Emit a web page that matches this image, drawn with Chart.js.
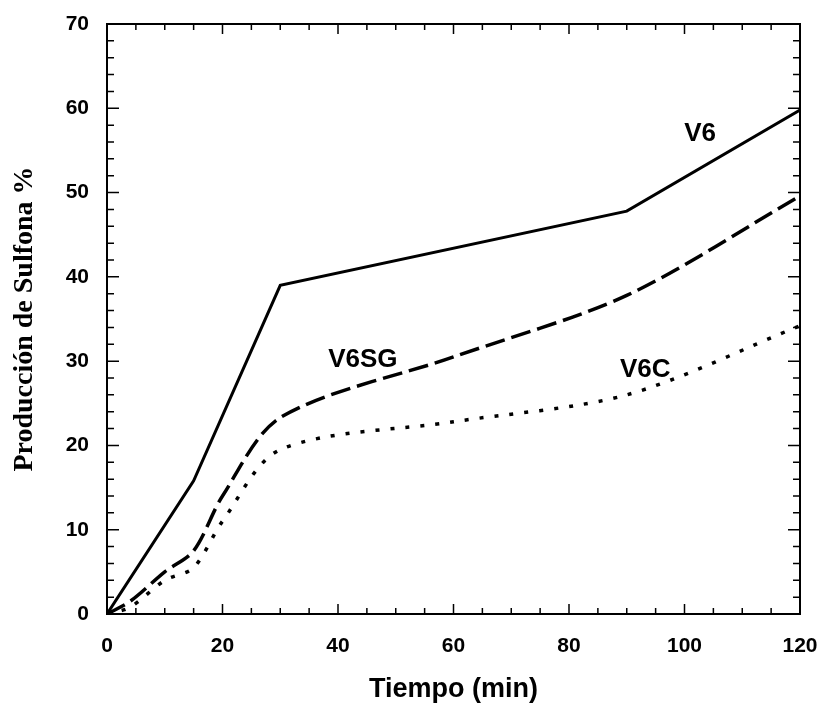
<!DOCTYPE html>
<html>
<head>
<meta charset="utf-8">
<script src="https://cdn.jsdelivr.net/npm/chart.js@4.4.1/dist/chart.umd.min.js"></script>
<style>
  html, body { margin: 0; padding: 0; background: #fff; }
  #wrap { width: 822px; height: 706px; }
</style>
</head>
<body>
<div id="wrap"><canvas id="myChart"></canvas></div>
<script>
// tiempo (min)
let t_v6 = [0, 15, 30, 90, 120];
let y_v6 = [0, 15.8, 39, 47.8, 59.8];

let t_v6sg = [0, 4, 10, 15, 20, 30, 60, 90, 120];
let y_v6sg = [0, 1.5, 5, 7.5, 14, 23.3, 30.5, 37.8, 49.6];

let t_v6c = [0, 4, 10, 15, 20, 30, 60, 90, 120];
let y_v6c = [0, 0.8, 4, 5.5, 11, 19.5, 22.8, 26, 34.2];

let seriesNames = ['V6', 'V6SG', 'V6C'];
// etiquetas en coordenadas de datos
let labelX = [102.7, 44.3, 93.2];
let labelY = [57, 30.2, 29];

let xTicks = [0, 20, 40, 60, 80, 100, 120];
let yTicks = [0, 10, 20, 30, 40, 50, 60, 70];

function pts(xs, ys) {
  return xs.map((x, i) => ({x: x, y: ys[i]}));
}

// ticks hacia dentro en los cuatro lados + marco
const frame = {
  id: 'frame',
  afterDraw(chart) {
    let ctx = chart.ctx, a = chart.chartArea;
    let sx = chart.scales.x, sy = chart.scales.y;
    ctx.save();
    ctx.strokeStyle = '#000';
    ctx.lineWidth = 2;
    ctx.strokeRect(a.left, a.top, a.right - a.left, a.bottom - a.top);
    ctx.lineWidth = 1.5;
    ctx.beginPath();
    for (let v = 0; v <= 120; v += 5) {
      let px = sx.getPixelForValue(v);
      let len = v % 20 == 0 ? 10 : 6;
      ctx.moveTo(px, a.bottom); ctx.lineTo(px, a.bottom - len);
      ctx.moveTo(px, a.top); ctx.lineTo(px, a.top + len);
    }
    for (let v = 0; v <= 70; v += 2) {
      let py = sy.getPixelForValue(v);
      let len = v % 10 == 0 ? 12 : 7;
      ctx.moveTo(a.left, py); ctx.lineTo(a.left + len, py);
      ctx.moveTo(a.right, py); ctx.lineTo(a.right - len, py);
    }
    ctx.stroke();
    ctx.fillStyle = '#000';
    ctx.font = 'bold 26px "Liberation Sans", Arial, sans-serif';
    ctx.textAlign = 'center';
    ctx.textBaseline = 'middle';
    seriesNames.forEach((n, i) => {
      ctx.fillText(n, sx.getPixelForValue(labelX[i]), sy.getPixelForValue(labelY[i]));
    });
    ctx.restore();
  }
};

let chart = new Chart(document.getElementById('myChart'), {
  type: 'line',
  data: {
    datasets: [
      {label: 'V6', data: pts(t_v6, y_v6), borderColor: '#000', borderWidth: 3, pointRadius: 0, tension: 0},
      {label: 'V6SG', data: pts(t_v6sg, y_v6sg), borderColor: '#000', borderWidth: 3.5, borderDash: [20, 7], pointRadius: 0, tension: 0.3},
      {label: 'V6C', data: pts(t_v6c, y_v6c), borderColor: '#000', borderWidth: 3.5, borderDash: [4, 11], pointRadius: 0, tension: 0.3}
    ]
  },
  options: {
    responsive: true,
    maintainAspectRatio: false,
    animation: false,
    layout: {padding: {top: 24, right: 22, left: 0, bottom: 0}},
    plugins: {legend: {display: false}, tooltip: {enabled: false}},
    scales: {
      x: {
        type: 'linear', min: 0, max: 120,
        afterBuildTicks: s => { s.ticks = xTicks.map(v => ({value: v})); },
        afterFit: s => { s.height = 92; s.paddingLeft = 0; s.paddingRight = 0; },
        grid: {display: false},
        border: {display: false},
        ticks: {color: '#000', padding: 12, font: {size: 21, weight: 'bold', family: '"Liberation Sans", Arial, sans-serif'}},
        title: {display: true, text: 'Tiempo (min)', color: '#000', padding: {top: 4, bottom: 0},
          font: {size: 27, weight: 'bold', family: '"Liberation Sans", Arial, sans-serif'}}
      },
      y: {
        min: 0, max: 70,
        afterBuildTicks: s => { s.ticks = yTicks.map(v => ({value: v})); },
        afterFit: s => { s.width = 107; s.paddingTop = 0; s.paddingBottom = 0; },
        grid: {display: false},
        border: {display: false},
        ticks: {color: '#000', padding: 10, font: {size: 21, weight: 'bold', family: '"Liberation Sans", Arial, sans-serif'}},
        title: {display: true, text: 'Producción de Sulfona %', color: '#000', padding: {top: 8, bottom: 0},
          font: {size: 28, weight: 'bold', family: '"Liberation Serif", "Times New Roman", serif'}}
      }
    }
  },
  plugins: [frame]
});
</script>
</body>
</html>
